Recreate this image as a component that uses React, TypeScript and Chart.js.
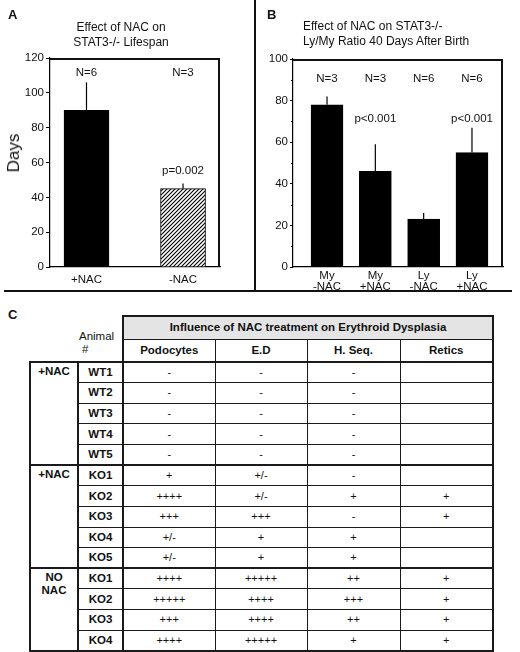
import React, { useEffect, useRef } from 'react';
import { Chart, registerables } from 'chart.js';

Chart.register(...registerables);

const FONT = "'Liberation Sans', Arial, Helvetica, sans-serif";

// ---------- Panel A data ----------
const categoriesA = ['+NAC', '-NAC'];
const lifespanDays = [90, 45];
const lifespanErrTop = [106, 48];
const nLabelsA = ['N=6', 'N=3'];
const pLabelsA = ['', 'p=0.002'];
const yMaxA = 120;
const yStepA = 20;

// ---------- Panel B data ----------
const categoriesB = [['My', '-NAC'], ['My', '+NAC'], ['Ly', '-NAC'], ['Ly', '+NAC']];
const ratioValues = [78, 46, 23, 55];
const ratioErrTop = [82, 59, 26, 67];
const nLabelsB = ['N=3', 'N=3', 'N=6', 'N=6'];
const pLabelsB = ['', 'p<0.001', '', 'p<0.001'];
const yMaxB = 100;
const yStepB = 20;
const minorTicksB = [10, 30, 50, 70, 90];

// ---------- Panel C data ----------
const tableTitle = 'Influence of NAC treatment on Erythroid Dysplasia';
const tableColumns = ['Podocytes', 'E.D', 'H. Seq.', 'Retics'];
const groupLabels = [['+NAC'], ['+NAC'], ['NO', 'NAC']];
const wtAnimals = ['WT1', 'WT2', 'WT3', 'WT4', 'WT5'];
const wtScores = [
  ['-', '-', '-', ''],
  ['-', '-', '-', ''],
  ['-', '-', '-', ''],
  ['-', '-', '-', ''],
  ['-', '-', '-', ''],
];
const koNacAnimals = ['KO1', 'KO2', 'KO3', 'KO4', 'KO5'];
const koNacScores = [
  ['+', '+/-', '-', ''],
  ['++++', '+/-', '+', '+'],
  ['+++', '+++', '-', '+'],
  ['+/-', '+', '+', ''],
  ['+/-', '+', '+', ''],
];
const koNoNacAnimals = ['KO1', 'KO2', 'KO3', 'KO4'];
const koNoNacScores = [
  ['++++', '+++++', '++', '+'],
  ['+++++', '++++', '+++', '+'],
  ['+++', '++++', '++', '+'],
  ['++++', '+++++', '+', '+'],
];

function makeHatch(): CanvasPattern | string {
  const c = document.createElement('canvas');
  c.width = 4;
  c.height = 4;
  const g = c.getContext('2d');
  if (!g) return '#888';
  g.fillStyle = '#fff';
  g.fillRect(0, 0, 4, 4);
  g.strokeStyle = '#000';
  g.lineWidth = 1.1;
  g.beginPath();
  g.moveTo(0, 4); g.lineTo(4, 0);
  g.moveTo(-1, 1); g.lineTo(1, -1);
  g.moveTo(3, 5); g.lineTo(5, 3);
  g.stroke();
  const p = g.createPattern(c, 'repeat');
  return p || '#888';
}

type PanelCfg = {
  labels: (string | string[])[];
  values: number[];
  errTop: number[];
  nLabels: string[];
  pLabels: string[];
  pValueY: number;
  nOffset: number;
  yMax: number;
  yStep: number;
  xMin: number;
  xMax: number;
  barThickness: number;
  colors: (string | CanvasPattern)[];
  padTop: number;
  padRight: number;
  yWidth: number;
  xHeight: number;
  tickLen: number;
  xPad: number;
  lineHeight: number;
  minor: number[];
};

function buildChart(canvas: HTMLCanvasElement, cfg: PanelCfg) {
  const annot = {
    id: 'annot',
    afterDraw(chart: any) {
      const ctx = chart.ctx;
      const ys = chart.scales.y;
      const area = chart.chartArea;
      const meta = chart.getDatasetMeta(0);
      ctx.save();
      // frame top/right
      ctx.strokeStyle = '#111111';
      ctx.lineWidth = 2;
      ctx.beginPath();
      ctx.moveTo(area.left, area.top + 1);
      ctx.lineTo(area.right - 1, area.top + 1);
      ctx.lineTo(area.right - 1, area.bottom);
      ctx.stroke();
      ctx.strokeStyle = '#000';
      ctx.lineWidth = 1;
      // minor ticks
      cfg.minor.forEach((v) => {
        const y = Math.round(ys.getPixelForValue(v)) + 0.5;
        ctx.beginPath();
        ctx.moveTo(area.left - 2, y);
        ctx.lineTo(area.left, y);
        ctx.stroke();
      });
      // error bars
      ctx.lineWidth = 1.2;
      meta.data.forEach((bar: any, i: number) => {
        const top = ys.getPixelForValue(cfg.errTop[i]);
        ctx.beginPath();
        ctx.moveTo(bar.x, bar.y);
        ctx.lineTo(bar.x, top);
        ctx.stroke();
      });
      // text labels
      ctx.fillStyle = '#111';
      ctx.font = `11.5px ${FONT}`;
      ctx.textAlign = 'center';
      ctx.textBaseline = 'middle';
      meta.data.forEach((bar: any, i: number) => {
        ctx.fillText(cfg.nLabels[i], bar.x, area.top + cfg.nOffset);
        if (cfg.pLabels[i]) ctx.fillText(cfg.pLabels[i], bar.x, ys.getPixelForValue(cfg.pValueY));
      });
      ctx.restore();
    },
  };

  return new Chart(canvas, {
    type: 'bar',
    data: {
      datasets: [
        {
          data: cfg.values.map((v, i) => ({ x: i + 1, y: v })),
          backgroundColor: cfg.colors as any,
          borderColor: '#000',
          borderWidth: 1,
          barThickness: cfg.barThickness,
        },
      ],
    },
    options: {
      responsive: false,
      animation: false,
      events: [],
      layout: { padding: { top: cfg.padTop, right: cfg.padRight, left: 0, bottom: 0 } },
      plugins: { legend: { display: false }, tooltip: { enabled: false }, title: { display: false } },
      scales: {
        x: {
          type: 'linear',
          min: cfg.xMin,
          max: cfg.xMax,
          offset: false,
          afterBuildTicks: (s: any) => {
            s.ticks = cfg.labels.map((_, i) => ({ value: i + 1 }));
          },
          afterFit: (s: any) => {
            s.height = cfg.xHeight;
          },
          grid: { display: false, drawTicks: false },
          border: { display: true, color: '#000', width: 1.2 },
          ticks: {
            autoSkip: false,
            maxRotation: 0,
            padding: cfg.xPad,
            color: '#111',
            font: { family: FONT, size: 11.5, lineHeight: cfg.lineHeight },
            callback: (v: any) => cfg.labels[Math.round(Number(v)) - 1] as any,
          },
        },
        y: {
          min: 0,
          max: cfg.yMax,
          afterFit: (s: any) => {
            s.width = cfg.yWidth;
          },
          grid: { display: true, drawOnChartArea: false, drawTicks: true, tickLength: cfg.tickLen, color: '#000', lineWidth: 1 },
          border: { display: true, color: '#000', width: 1.2 },
          ticks: {
            stepSize: cfg.yStep,
            padding: 2,
            color: '#111',
            font: { family: FONT, size: 11.5 },
          },
        },
      },
    },
    plugins: [annot],
  });
}

const cellBase: React.CSSProperties = {
  border: '1.5px solid #1a1a1a',
  padding: 0,
  textAlign: 'center',
  verticalAlign: 'middle',
  lineHeight: '13px',
};

function TableC() {
  const groups = [
    { label: groupLabels[0], animals: wtAnimals, scores: wtScores },
    { label: groupLabels[1], animals: koNacAnimals, scores: koNacScores },
    { label: groupLabels[2], animals: koNoNacAnimals, scores: koNoNacScores },
  ];
  const rowH = 20.64;
  return (
    <table
      style={{
        position: 'absolute',
        left: 29,
        top: 315,
        width: 463,
        borderCollapse: 'collapse',
        tableLayout: 'fixed',
        fontFamily: FONT,
        color: '#111',
      }}
    >
      <colgroup>
        <col style={{ width: 48 }} />
        <col style={{ width: 45 }} />
        <col style={{ width: 92 }} />
        <col style={{ width: 92 }} />
        <col style={{ width: 93 }} />
        <col style={{ width: 93 }} />
      </colgroup>
      <tbody>
        <tr style={{ height: 23 }}>
          <td colSpan={2} rowSpan={2} style={{ border: 'none', padding: 0 }} />
          <td
            colSpan={4}
            style={{
              ...cellBase,
              borderTop: '2px solid #1a1a1a',
              borderLeft: '2px solid #1a1a1a',
              borderRight: '2px solid #1a1a1a',
              background: '#e4e4e4',
              fontWeight: 'bold',
              fontSize: 11.5,
            }}
          >
            {tableTitle}
          </td>
        </tr>
        <tr style={{ height: 23 }}>
          {tableColumns.map((c, ci) => (
            <td
              key={c}
              style={{
                ...cellBase,
                fontWeight: 'bold',
                fontSize: 11.5,
                borderLeft: ci === 0 ? '2px solid #1a1a1a' : cellBase.border,
                borderRight: ci === 3 ? '2px solid #1a1a1a' : cellBase.border,
              }}
            >
              {c}
            </td>
          ))}
        </tr>
        {groups.map((g, gi) =>
          g.animals.map((a, ri) => {
            const firstRow = ri === 0;
            const lastRow = gi === groups.length - 1 && ri === g.animals.length - 1;
            const top = firstRow ? '2px solid #1a1a1a' : cellBase.border;
            const bottom = lastRow ? '2px solid #1a1a1a' : cellBase.border;
            return (
              <tr key={`${gi}-${ri}`} style={{ height: rowH }}>
                {firstRow && (
                  <td
                    rowSpan={g.animals.length}
                    style={{
                      ...cellBase,
                      border: '2px solid #1a1a1a',
                      verticalAlign: 'top',
                      paddingTop: 2,
                      fontWeight: 'bold',
                      fontSize: 11.5,
                    }}
                  >
                    {g.label.map((l, li) => (
                      <div key={li}>{l}</div>
                    ))}
                  </td>
                )}
                <td
                  style={{
                    ...cellBase,
                    borderTop: top,
                    borderBottom: bottom,
                    borderLeft: '2px solid #1a1a1a',
                    fontWeight: 'bold',
                    fontSize: 11.5,
                  }}
                >
                  {a}
                </td>
                {g.scores[ri].map((s, ci) => (
                  <td
                    key={ci}
                    style={{
                      ...cellBase,
                      borderTop: top,
                      borderBottom: bottom,
                      borderLeft: ci === 0 ? '2px solid #1a1a1a' : cellBase.border,
                      borderRight: ci === 3 ? '2px solid #1a1a1a' : cellBase.border,
                      fontSize: 11,
                    }}
                  >
                    {s}
                  </td>
                ))}
              </tr>
            );
          })
        )}
      </tbody>
    </table>
  );
}

export default function App() {
  const refA = useRef<HTMLCanvasElement>(null);
  const refB = useRef<HTMLCanvasElement>(null);

  useEffect(() => {
    if (!refA.current || !refB.current) return;
    const hatch = makeHatch();
    const chartA = buildChart(refA.current, {
      labels: categoriesA,
      values: lifespanDays,
      errTop: lifespanErrTop,
      nLabels: nLabelsA,
      pLabels: pLabelsA,
      pValueY: 55,
      nOffset: 15,
      yMax: yMaxA,
      yStep: yStepA,
      xMin: 0.622,
      xMax: 2.383,
      barThickness: 45,
      colors: ['#000', hatch],
      padTop: 58,
      padRight: 35,
      yWidth: 50,
      xHeight: 24,
      tickLen: 4,
      xPad: 7,
      lineHeight: 1.1,
      minor: [],
    });
    const chartB = buildChart(refB.current, {
      labels: categoriesB,
      values: ratioValues,
      errTop: ratioErrTop,
      nLabels: nLabelsB,
      pLabels: pLabelsB,
      pValueY: 71,
      nOffset: 20,
      yMax: yMaxB,
      yStep: yStepB,
      xMin: 0.296,
      xMax: 4.642,
      barThickness: 32,
      colors: ['#000', '#000', '#000', '#000'],
      padTop: 59,
      padRight: 17,
      yWidth: 37,
      xHeight: 23,
      tickLen: 3,
      xPad: 3,
      lineHeight: 1.0,
      minor: minorTicksB,
    });
    return () => {
      chartA.destroy();
      chartB.destroy();
    };
  }, []);

  const letter: React.CSSProperties = {
    position: 'absolute',
    fontFamily: FONT,
    fontWeight: 'bold',
    fontSize: 13,
    lineHeight: '13px',
    color: '#111',
  };
  const title: React.CSSProperties = {
    position: 'absolute',
    fontFamily: FONT,
    fontSize: 12,
    lineHeight: '14.5px',
    color: '#111',
    whiteSpace: 'nowrap',
  };

  return (
    <div
      style={{
        position: 'fixed',
        left: 0,
        top: 0,
        width: 520,
        height: 652,
        background: '#fff',
        overflow: 'hidden',
      }}
    >
      <canvas ref={refA} width={255} height={291} style={{ position: 'absolute', left: 0, top: 0, width: 255, height: 291 }} />
      <canvas ref={refB} width={264} height={290} style={{ position: 'absolute', left: 256, top: 0, width: 264, height: 290 }} />

      <div style={{ ...letter, left: 8, top: 8 }}>A</div>
      <div style={{ ...letter, left: 267, top: 8 }}>B</div>
      <div style={{ ...letter, left: 8, top: 308 }}>C</div>

      <div style={{ ...title, left: 40, top: 20, width: 162, textAlign: 'center' }}>
        <div>Effect of NAC on</div>
        <div>STAT3-/- Lifespan</div>
      </div>
      <div style={{ ...title, left: 303, top: 19 }}>
        <div>Effect of NAC on STAT3-/-</div>
        <div>Ly/My Ratio 40 Days After Birth</div>
      </div>

      <div
        style={{
          position: 'absolute',
          left: 14,
          top: 153,
          transform: 'translate(-50%, -50%) rotate(-90deg)',
          fontFamily: FONT,
          fontSize: 17,
          color: '#111',
          whiteSpace: 'nowrap',
        }}
      >
        Days
      </div>

      <div style={{ position: 'absolute', left: 254, top: 0, width: 2, height: 292, background: '#111' }} />
      <div style={{ position: 'absolute', left: 4, top: 290, width: 508, height: 2, background: '#111' }} />

      <div
        style={{
          position: 'absolute',
          left: 79,
          top: 330,
          fontFamily: FONT,
          fontSize: 11.5,
          lineHeight: '13px',
          color: '#111',
        }}
      >
        <div>Animal</div>
        <div style={{ paddingLeft: 3 }}>#</div>
      </div>

      <TableC />
    </div>
  );
}
